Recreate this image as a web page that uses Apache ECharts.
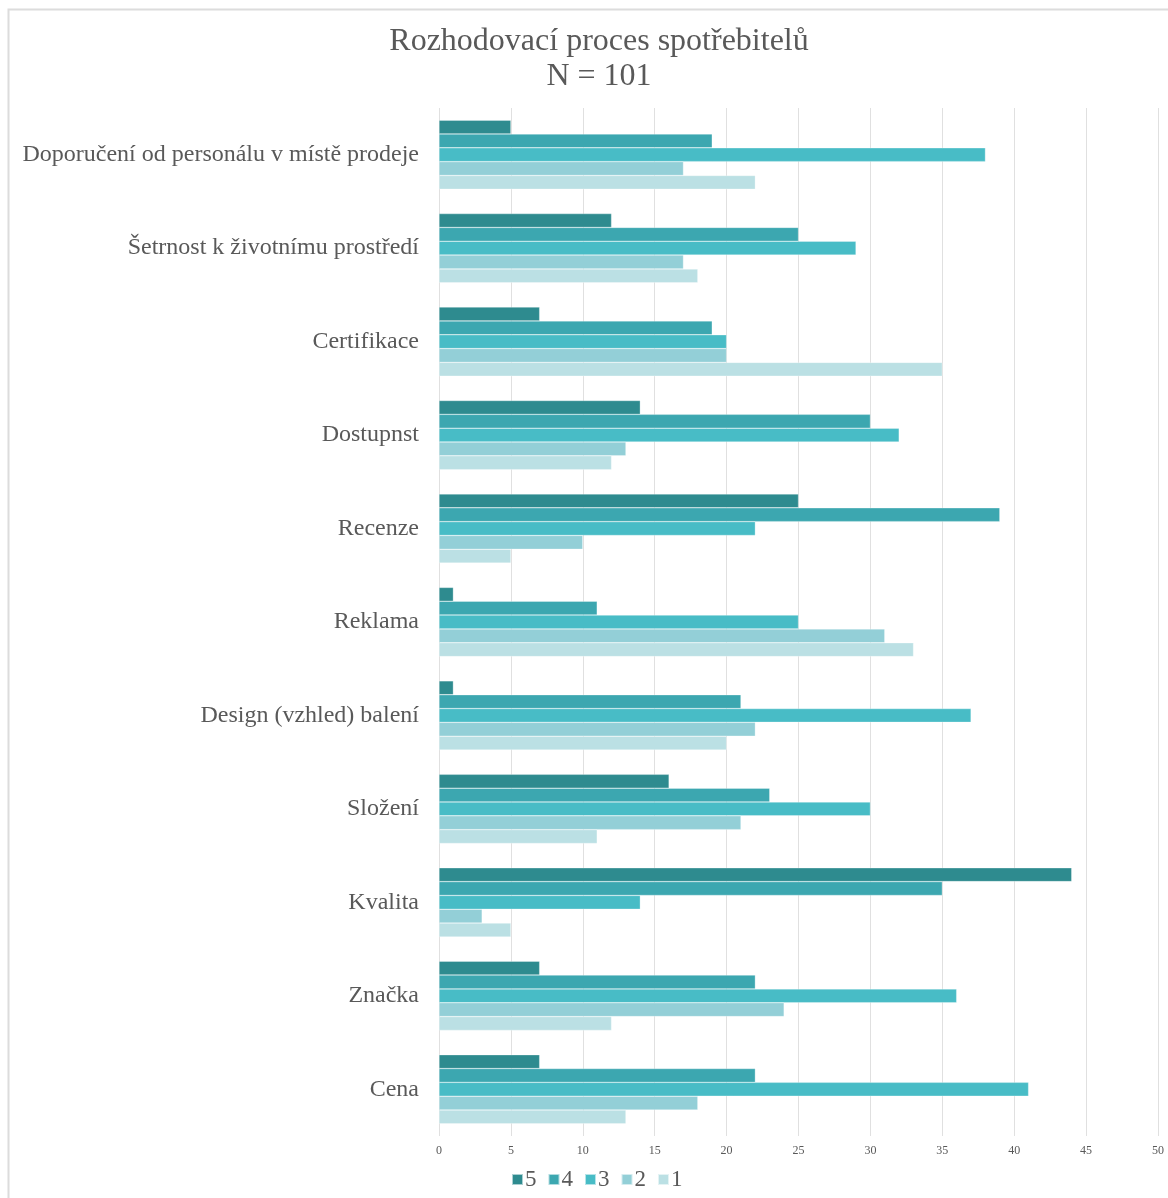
<!DOCTYPE html>
<html><head><meta charset="utf-8">
<script src="https://cdn.jsdelivr.net/npm/echarts@6/dist/echarts.min.js"></script>
<style>html,body{margin:0;padding:0;background:#fff}#c{width:1168px;height:1198px}</style>
</head><body><div id="c"></div>
<script>
const categories = ["Doporučení od personálu v místě prodeje","Šetrnost k životnímu prostředí","Certifikace","Dostupnst","Recenze","Reklama","Design (vzhled) balení","Složení","Kvalita","Značka","Cena"];
const seriesNames = ["5","4","3","2","1"];
const s5 = [5,12,7,14,25,1,1,16,44,7,7];
const s4 = [19,25,19,30,39,11,21,23,35,22,22];
const s3 = [38,29,20,32,22,25,37,30,14,36,41];
const s2 = [17,17,20,13,10,31,22,21,3,24,18];
const s1 = [22,18,35,12,5,33,20,11,5,12,13];
const colors = ["#2e8b8f","#3ca7b0","#48bcc6","#93cfd7","#bbe0e4"];
const values = [s5,s4,s3,s2,s1];
const chart = echarts.init(document.getElementById('c'));
const font = "'Liberation Serif','Times New Roman',serif";
chart.setOption({
  animation:false,
  textStyle:{fontFamily:font},
  title:{text:"Rozhodovací proces spotřebitelů\nN = 101",left:594,textAlign:'center',top:19,
    textStyle:{fontFamily:font,fontSize:32,fontWeight:'normal',color:'#595959',lineHeight:35}},
  graphic:[{type:'rect',shape:{x:8.5,y:9.5,width:1200,height:1300},style:{fill:'none',stroke:'#dcdcdc',lineWidth:2},silent:true}],
  legend:{data:seriesNames,bottom:2,left:506,itemWidth:11,itemHeight:11,itemGap:11,
    icon:'rect',textStyle:{fontFamily:font,fontSize:23,color:'#595959',padding:[0,0,0,-3]}},
  grid:{left:439,right:10,top:108,bottom:62},
  xAxis:{type:'value',min:0,max:50,interval:5,
    axisLine:{show:false},axisTick:{show:false},
    axisLabel:{fontFamily:font,fontSize:12,color:'#595959',margin:9},
    splitLine:{lineStyle:{color:'#e0e0e0',width:1}}},
  yAxis:{type:'category',data:categories,inverse:true,
    axisLine:{show:false},axisTick:{show:false},
    axisLabel:{fontFamily:font,fontSize:24,color:'#595959',margin:20}},
  series:values.map((v,i)=>({name:seriesNames[i],type:'bar',data:v,
    barGap:'0%',barCategoryGap:'26%',
    itemStyle:{color:colors[i],borderColor:'rgba(255,255,255,0.6)',borderWidth:0.5}}))
});
</script></body></html>
